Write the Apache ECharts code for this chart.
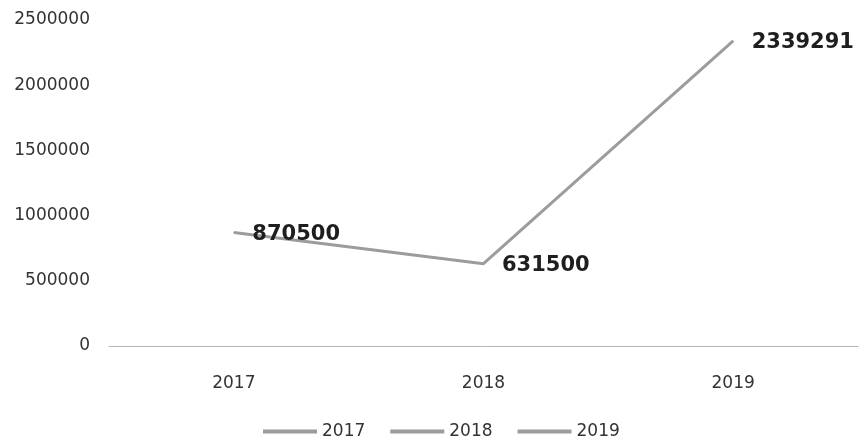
<!DOCTYPE html>
<html>
<head>
<meta charset="utf-8">
<script src="https://cdn.jsdelivr.net/npm/echarts@6/dist/echarts.min.js"></script>
<style>html,body{margin:0;padding:0;background:#fff;}#c{width:860px;height:440px;}</style>
</head>
<body>
<div id="c"></div>
<script>
var categories = ['2017', '2018', '2019'];
var values = [870500, 631500, 2339291];
var legendNames = ['2017', '2018', '2019'];
var yTicks = [0, 500000, 1000000, 1500000, 2000000, 2500000];

var chart = echarts.init(document.getElementById('c'), null, {renderer: 'canvas'});
var lineColor = '#9c9c9c';
var series = legendNames.map(function (n, i) {
  return {
    name: n,
    type: 'line',
    data: i === 0 ? values : [],
    color: lineColor,
    lineStyle: {color: lineColor, width: 3},
    symbol: 'circle',
    symbolSize: 1,
    itemStyle: {color: lineColor},
    label: {
      show: true,
      position: 'right',
      distance: 18,
      offset: [0, 2],
      fontFamily: 'DejaVu Sans',
      fontWeight: 'bold',
      fontSize: 21,
      color: '#1e1e1e'
    },
    animation: false
  };
});
chart.setOption({
  animation: false,
  grid: {left: 109, right: 2, top: 20, bottom: 94, containLabel: false},
  legend: {
    data: legendNames,
    left: 258,
    top: 418,
    icon: 'rect',
    itemWidth: 54,
    itemHeight: 4,
    itemGap: 25,
    textStyle: {fontFamily: 'DejaVu Sans', fontSize: 17, color: '#333'}
  },
  xAxis: {
    type: 'category',
    data: categories,
    boundaryGap: true,
    axisLine: {lineStyle: {color: '#b5b5b5', width: 1}},
    axisTick: {show: false},
    axisLabel: {margin: 29, fontFamily: 'DejaVu Sans', fontSize: 17, color: '#333'}
  },
  yAxis: {
    type: 'value',
    min: yTicks[0],
    max: yTicks[yTicks.length - 1],
    interval: yTicks[1] - yTicks[0],
    axisLine: {show: false},
    axisTick: {show: false},
    splitLine: {show: false},
    axisLabel: {margin: 19, fontFamily: 'DejaVu Sans', fontSize: 17, color: '#333',
      formatter: function (v) { return String(v); }}
  },
  series: series
});
</script>
</body>
</html>
